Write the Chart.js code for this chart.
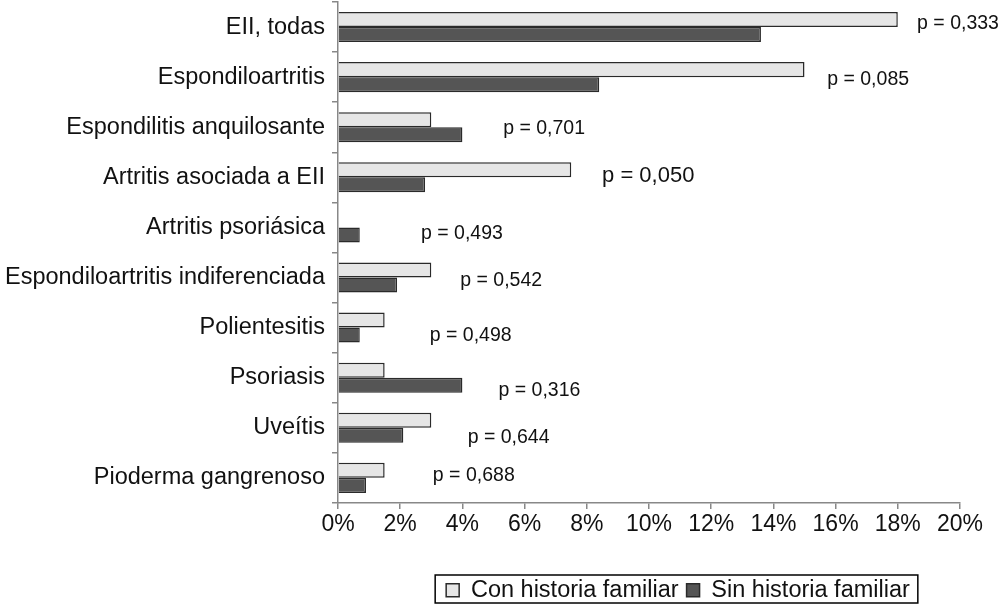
<!DOCTYPE html>
<html>
<head>
<meta charset="utf-8">
<script src="https://cdn.jsdelivr.net/npm/chart.js@4.4.1/dist/chart.umd.min.js"></script>
<style>
  html, body { margin: 0; padding: 0; background: #fff; }
</style>
</head>
<body>
<canvas id="chart" width="1000" height="604"></canvas>
<script>
// datos
const categorias = ['EII, todas', 'Espondiloartritis', 'Espondilitis anquilosante', 'Artritis asociada a EII',
  'Artritis psoriásica', 'Espondiloartritis indiferenciada', 'Polientesitis', 'Psoriasis', 'Uveítis', 'Pioderma gangrenoso'];
const conHistoria = [18.0, 15.0, 3.0, 7.5, 0, 3.0, 1.5, 1.5, 3.0, 1.5];
const sinHistoria = [13.6, 8.4, 4.0, 2.8, 0.7, 1.9, 0.7, 4.0, 2.1, 0.9];
const pValores = ['p = 0,333', 'p = 0,085', 'p = 0,701', 'p = 0,050', 'p = 0,493',
  'p = 0,542', 'p = 0,498', 'p = 0,316', 'p = 0,644', 'p = 0,688'];
const ticksX = [0, 2, 4, 6, 8, 10, 12, 14, 16, 18, 20];

// donde va cada texto de p: x en %, desplazamiento vertical en px
const pSitio = [[18.62, -3], [15.73, 2], [5.31, 1], [8.49, -1], [2.67, 6],
  [3.93, 3], [2.95, 8], [5.16, 13], [4.17, 10], [3.05, -2]];

const fuente = "'Liberation Sans', Arial, Helvetica, sans-serif";

const pLabels = {
  id: 'pLabels',
  afterDatasetsDraw(chart) {
    const ctx = chart.ctx;
    const x = chart.scales.x, y = chart.scales.y;
    ctx.save();
    ctx.fillStyle = '#111';
    ctx.textBaseline = 'middle';
    ctx.textAlign = 'left';
    pValores.forEach((t, i) => {
      const grande = t === 'p = 0,050';
      ctx.font = (grande ? '22px ' : '19.5px ') + fuente;
      ctx.fillText(t, x.getPixelForValue(pSitio[i][0]), y.getPixelForValue(i) + pSitio[i][1]);
    });
    ctx.restore();
  }
};

// la leyenda va centrada en x=678 y con marco
const legendBox = {
  id: 'legendBox',
  afterLayout(chart) {
    const lg = chart.legend;
    lg.left = 356;
    lg.right = 1000;
    lg.top += 8;
    lg.bottom += 8;
  },
  afterDraw(chart) {
    const lg = chart.legend;
    const w = lg.lineWidths[0];
    const c = (lg.left + lg.right) / 2;
    const l = c - w / 2 - 7, r = c + w / 2 + 4;
    const t = 575, b = 603;
    const ctx = chart.ctx;
    ctx.save();
    ctx.strokeStyle = '#000';
    ctx.lineWidth = 1.5;
    ctx.strokeRect(l, t, r - l, b - t);
    ctx.restore();
  }
};

const ctx = document.getElementById('chart').getContext('2d');
new Chart(ctx, {
  type: 'bar',
  data: {
    labels: categorias,
    datasets: [{
      label: 'Con historia familiar',
      data: conHistoria,
      backgroundColor: '#e6e6e6',
      borderColor: '#2a2a2a',
      borderWidth: 1.5
    }, {
      label: 'Sin historia familiar',
      data: sinHistoria,
      backgroundColor: '#555555',
      borderColor: '#2a2a2a',
      borderWidth: 1.5
    }]
  },
  options: {
    indexAxis: 'y',
    responsive: false,
    animation: false,
    layout: { padding: { top: 2, right: 40, bottom: 0, left: 0 } },
    datasets: { bar: { categoryPercentage: 0.6, barPercentage: 1 } },
    scales: {
      x: {
        min: 0,
        max: 20,
        afterBuildTicks(axis) { axis.ticks = ticksX.map(v => ({ value: v })); },
        afterFit(axis) { axis.height += 22; },
        ticks: {
          color: '#111',
          font: { family: fuente, size: 23 },
          padding: 2,
          callback: v => v + '%'
        },
        grid: { drawOnChartArea: false, tickLength: 6, color: '#888', lineWidth: 1.5 },
        border: { color: '#888', width: 1.5 }
      },
      y: {
        afterFit(axis) {
          axis.width = 338;
          axis.paddingTop = 0;
          axis.paddingBottom = 0;
        },
        ticks: {
          color: '#111',
          font: { family: fuente, size: 23.5 },
          padding: 7
        },
        grid: { offset: true, drawOnChartArea: false, tickLength: 6, color: '#888', lineWidth: 1.5 },
        border: { color: '#888', width: 1.5 }
      }
    },
    plugins: {
      legend: {
        position: 'bottom',
        labels: {
          color: '#111',
          font: { family: fuente, size: 23.5 },
          boxWidth: 13,
          boxHeight: 13,
          padding: 8
        }
      },
      tooltip: { enabled: false }
    }
  },
  plugins: [pLabels, legendBox]
});
</script>
</body>
</html>
